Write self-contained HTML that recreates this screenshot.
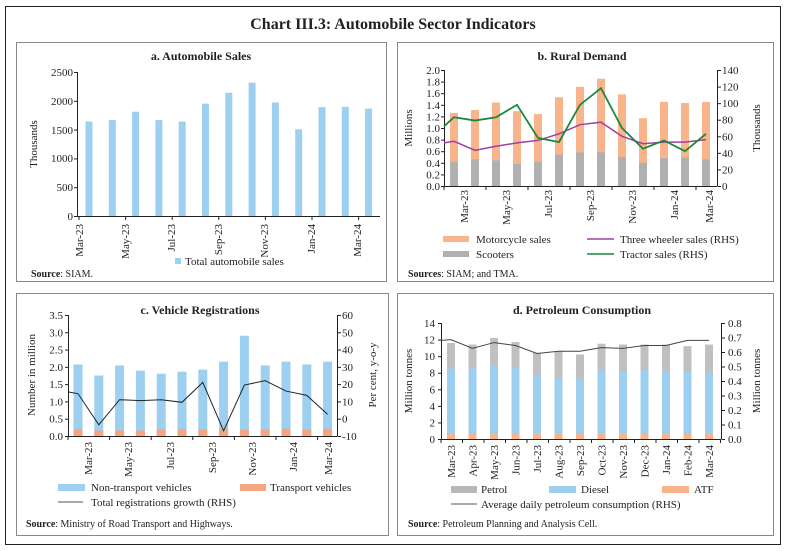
<!DOCTYPE html>
<html><head><meta charset="utf-8"><style>
body{margin:0;background:#fff}
svg{display:block}
text{font-family:"Liberation Serif",serif;fill:#222}
.t{font-size:11px}
.s{font-size:10px}
.h{font-size:12px;font-weight:bold}
</style></head><body>
<svg id="c" width="787" height="551" viewBox="0 0 787 551" xmlns="http://www.w3.org/2000/svg">
<rect x="5.5" y="6.5" width="775" height="538" fill="none" stroke="#222" stroke-width="1"/>
<text x="393" y="29" text-anchor="middle" style="font-size:16px;font-weight:bold">Chart III.3: Automobile Sector Indicators</text>
<rect x="16.5" y="42.5" width="370" height="239" fill="none" stroke="#888"/>
<rect x="397.5" y="42.5" width="376" height="239" fill="none" stroke="#888"/>
<rect x="16.5" y="293.5" width="372" height="242" fill="none" stroke="#888"/>
<rect x="397.5" y="293.5" width="376" height="242" fill="none" stroke="#888"/>

<!-- Panel a -->
<text class="h" x="201" y="60" text-anchor="middle">a. Automobile Sales</text>
<g class="t" text-anchor="end">
<text x="73" y="76">2500</text><text x="73" y="105">2000</text><text x="73" y="134">1500</text><text x="73" y="162">1000</text><text x="73" y="191">500</text><text x="73" y="220">0</text>
</g>
<text class="t" transform="translate(37,144) rotate(-90)" text-anchor="middle">Thousands</text>
<g class="t" text-anchor="end">
<text transform="translate(83,224) rotate(-90)">Mar-23</text>
<text transform="translate(129,224) rotate(-90)">May-23</text>
<text transform="translate(175,224) rotate(-90)">Jul-23</text>
<text transform="translate(222,224) rotate(-90)">Sep-23</text>
<text transform="translate(268,224) rotate(-90)">Nov-23</text>
<text transform="translate(315,224) rotate(-90)">Jan-24</text>
<text transform="translate(361,224) rotate(-90)">Mar-24</text>
</g>
<rect x="175" y="258" width="6" height="6" fill="#9dd0f0"/>
<text class="t" x="185" y="265">Total automobile sales</text>
<text class="s" x="31" y="277"><tspan font-weight="bold">Source</tspan>: SIAM.</text>

<!-- Panel b -->
<text class="h" x="582" y="60" text-anchor="middle">b. Rural Demand</text>
<g class="t" text-anchor="end">
<text x="440" y="74">2.0</text><text x="440" y="85.6">1.8</text><text x="440" y="97.2">1.6</text><text x="440" y="108.8">1.4</text><text x="440" y="120.4">1.2</text><text x="440" y="132">1.0</text><text x="440" y="143.6">0.8</text><text x="440" y="155.2">0.6</text><text x="440" y="166.8">0.4</text><text x="440" y="178.4">0.2</text><text x="440" y="190">0.0</text>
</g>
<g class="t">
<text x="722" y="74">140</text><text x="722" y="90.6">120</text><text x="722" y="107.1">100</text><text x="722" y="123.7">80</text><text x="722" y="140.3">60</text><text x="722" y="156.9">40</text><text x="722" y="173.4">20</text><text x="722" y="190">0</text>
</g>
<text class="t" transform="translate(412,128) rotate(-90)" text-anchor="middle">Millions</text>
<text class="t" transform="translate(760,128) rotate(-90)" text-anchor="middle">Thousands</text>
<g class="t" text-anchor="end">
<text transform="translate(468,190) rotate(-90)">Mar-23</text>
<text transform="translate(510,190) rotate(-90)">May-23</text>
<text transform="translate(552,190) rotate(-90)">Jul-23</text>
<text transform="translate(594,190) rotate(-90)">Sep-23</text>
<text transform="translate(636,190) rotate(-90)">Nov-23</text>
<text transform="translate(678,190) rotate(-90)">Jan-24</text>
<text transform="translate(713,190) rotate(-90)">Mar-24</text>
</g>
<rect x="443" y="236" width="26" height="6" fill="#f8b48a"/>
<text class="t" x="476" y="243">Motorcycle sales</text>
<rect x="443" y="251" width="26" height="6" fill="#b0b0b0"/>
<text class="t" x="476" y="258">Scooters</text>
<line x1="587" y1="239" x2="614" y2="239" stroke="#a040a0" stroke-width="1.5"/>
<text class="t" x="620" y="243">Three wheeler sales (RHS)</text>
<line x1="587" y1="254" x2="614" y2="254" stroke="#1a8a3a" stroke-width="1.5"/>
<text class="t" x="620" y="258">Tractor sales (RHS)</text>
<text class="s" x="408" y="277"><tspan font-weight="bold">Sources</tspan>: SIAM; and TMA.</text>

<!-- Panel c -->
<text class="h" x="200" y="314" text-anchor="middle">c. Vehicle Registrations</text>
<g class="t" text-anchor="end">
<text x="63" y="319">3.5</text><text x="63" y="336.3">3.0</text><text x="63" y="353.6">2.5</text><text x="63" y="370.9">2.0</text><text x="63" y="388.1">1.5</text><text x="63" y="405.4">1.0</text><text x="63" y="422.7">0.5</text><text x="63" y="440">0.0</text>
</g>
<g class="t">
<text x="342" y="319">60</text><text x="342" y="336.3">50</text><text x="342" y="353.6">40</text><text x="342" y="370.9">30</text><text x="342" y="388.1">20</text><text x="342" y="405.4">10</text><text x="342" y="422.7">0</text><text x="342" y="440">-10</text>
</g>
<text class="t" transform="translate(35,375) rotate(-90)" text-anchor="middle">Number in million</text>
<text class="t" transform="translate(376,375) rotate(-90)" text-anchor="middle">Per cent, y-o-y</text>
<g class="t" text-anchor="end">
<text transform="translate(92,442) rotate(-90)">Mar-23</text>
<text transform="translate(132,442) rotate(-90)">May-23</text>
<text transform="translate(174,442) rotate(-90)">Jul-23</text>
<text transform="translate(216,442) rotate(-90)">Sep-23</text>
<text transform="translate(256,442) rotate(-90)">Nov-23</text>
<text transform="translate(297,442) rotate(-90)">Jan-24</text>
<text transform="translate(332,442) rotate(-90)">Mar-24</text>
</g>
<rect x="58" y="484" width="27" height="7" fill="#9dd0f0"/>
<text class="t" x="91" y="491">Non-transport vehicles</text>
<rect x="240" y="484" width="26" height="7" fill="#f4a582"/>
<text class="t" x="270" y="491">Transport vehicles</text>
<line x1="58" y1="502" x2="83" y2="502" stroke="#555" stroke-width="1"/>
<text class="t" x="91" y="506">Total registrations growth (RHS)</text>
<text class="s" x="26" y="527"><tspan font-weight="bold">Source</tspan>:  Ministry of Road Transport and Highways.</text>

<!-- Panel d -->
<text class="h" x="582" y="314" text-anchor="middle">d. Petroleum Consumption</text>
<g class="t" text-anchor="end">
<text x="435" y="327">14</text><text x="435" y="343.6">12</text><text x="435" y="360.1">10</text><text x="435" y="376.7">8</text><text x="435" y="393.3">6</text><text x="435" y="409.9">4</text><text x="435" y="426.4">2</text><text x="435" y="443">0</text>
</g>
<g class="t">
<text x="728" y="327">0.8</text><text x="728" y="341.5">0.7</text><text x="728" y="356">0.6</text><text x="728" y="370.5">0.5</text><text x="728" y="385">0.4</text><text x="728" y="399.5">0.3</text><text x="728" y="414">0.2</text><text x="728" y="428.5">0.1</text><text x="728" y="443">0.0</text>
</g>
<text class="t" transform="translate(412,381) rotate(-90)" text-anchor="middle">Million tonnes</text>
<text class="t" transform="translate(760,381) rotate(-90)" text-anchor="middle">Million tonnes</text>
<g class="t" text-anchor="end" id="dl">
<text transform="translate(455,445) rotate(-90)">Mar-23</text>
<text transform="translate(476.5,445) rotate(-90)">Apr-23</text>
<text transform="translate(498,445) rotate(-90)">May-23</text>
<text transform="translate(519.5,445) rotate(-90)">Jun-23</text>
<text transform="translate(541,445) rotate(-90)">Jul-23</text>
<text transform="translate(562.5,445) rotate(-90)">Aug-23</text>
<text transform="translate(584,445) rotate(-90)">Sep-23</text>
<text transform="translate(605.5,445) rotate(-90)">Oct-23</text>
<text transform="translate(627,445) rotate(-90)">Nov-23</text>
<text transform="translate(648.5,445) rotate(-90)">Dec-23</text>
<text transform="translate(670,445) rotate(-90)">Jan-24</text>
<text transform="translate(691.5,445) rotate(-90)">Feb-24</text>
<text transform="translate(713,445) rotate(-90)">Mar-24</text>
</g>
<rect x="451" y="486" width="26" height="7" fill="#b8b8b8"/>
<text class="t" x="481" y="493">Petrol</text>
<rect x="549" y="486" width="27" height="7" fill="#9dd0f0"/>
<text class="t" x="581" y="493">Diesel</text>
<rect x="662" y="486" width="27" height="7" fill="#f8b48a"/>
<text class="t" x="694" y="493">ATF</text>
<line x1="451" y1="504" x2="477" y2="504" stroke="#555"/>
<text class="t" x="481" y="508">Average daily petroleum consumption (RHS)</text>
<text class="s" x="408" y="527"><tspan font-weight="bold">Source</tspan>:  Petroleum Planning and Analysis Cell.</text>
<g id="g"></g>
</svg>
<script>
var g=document.getElementById('g'),NS='http://www.w3.org/2000/svg';
function el(t,a){var e=document.createElementNS(NS,t);for(var k in a)e.setAttribute(k,a[k]);g.appendChild(e);return e;}
function rect(x,y,w,h,f){el('rect',{x:x,y:y,width:w,height:h,fill:f});}
function line(x1,y1,x2,y2,s,w){el('line',{x1:x1,y1:y1,x2:x2,y2:y2,stroke:s,'stroke-width':w||1});}
function poly(p,s,w){el('polyline',{points:p.map(function(q){return q[0]+','+q[1]}).join(' '),fill:'none',stroke:s,'stroke-width':w});}
(function(){var v=[1640,1665,1810,1665,1640,1950,2140,2315,1970,1505,1890,1895,1865];
var y0=216,s=144/2500;
v.forEach(function(d,i){var cx=89+i*23.3;rect(cx-3.5,y0-d*s,7,d*s,'#9dd0f0');});
line(77.5,72,77.5,216,'#222');line(77,216.5,380,216.5,'#222');
for(var k=0;k<=5;k++){line(74,216.5-k*28.8,77.5,216.5-k*28.8,'#222');}
for(var k=0;k<7;k++){var x=79+k*46.6;line(x,216,x,220,'#222');}
})();
(function(){var tot=[1.26,1.31,1.44,1.29,1.24,1.53,1.71,1.85,1.58,1.17,1.45,1.43,1.45];
var sc=[0.42,0.46,0.44,0.38,0.42,0.54,0.58,0.58,0.50,0.40,0.48,0.49,0.46];
var y0=186,s=116/2,rs=116/140;
for(var i=0;i<13;i++){var cx=454+i*21;rect(cx-4,y0-tot[i]*s,8,tot[i]*s,'#f8b48a');rect(cx-4,y0-sc[i]*s,8,sc[i]*s,'#b0b0b0');}
line(444.5,70,444.5,186,'#222');line(717.5,70,717.5,186,'#222');line(444,186.5,717,186.5,'#222');
for(var k=0;k<=10;k++)line(441,186.5-k*11.6,444.5,186.5-k*11.6,'#222');
for(var k=0;k<=7;k++)line(717.5,186.5-k*16.57,721,186.5-k*16.57,'#222');
for(var k=0;k<7;k++){var x=444+k*42;line(x,186,x,190,'#222');}
var xs=[444];for(var i=0;i<13;i++)xs.push(454+i*21);
var gr=[72,83,79,83,98,58,53,98,118,70,45,55,42,63],pu=[52,54,43,48,52,55,63,74,77,60,51,53,53,56];
poly(xs.map(function(x,i){return [x,y0-pu[i]*rs]}),'#a040a0',1.5);
poly(xs.map(function(x,i){return [x,y0-gr[i]*rs]}),'#1a8a3a',1.8);
})();
(function(){var tot=[2.07,1.75,2.04,1.89,1.80,1.86,1.92,2.15,2.90,2.04,2.15,2.07,2.15];
var tr=[0.19,0.16,0.16,0.16,0.19,0.19,0.19,0.2,0.19,0.19,0.21,0.19,0.21];
var y0=436,s=121/3.5,rs=121/70;
for(var i=0;i<13;i++){var cx=78+i*20.8;rect(cx-4.5,y0-tot[i]*s,9,tot[i]*s,'#9dd0f0');rect(cx-4.5,y0-tr[i]*s,9,tr[i]*s,'#f4a582');}
line(68.5,315,68.5,436,'#222');line(337.5,315,337.5,436,'#222');line(68,436.5,337,436.5,'#222');
for(var k=0;k<=7;k++){line(65,436.5-k*17.29,68.5,436.5-k*17.29,'#222');line(337.5,436.5-k*17.29,341,436.5-k*17.29,'#222');}
for(var k=0;k<7;k++){var x=68+k*41.6;line(x,436,x,440,'#222');}
var xs=[68];for(var i=0;i<13;i++)xs.push(78+i*20.8);
var v=[15.5,14.5,-3.5,11,10.5,11,9.5,21,-7,19.5,22,16,13.5,2.5];
poly(xs.map(function(x,i){return [x,y0-(v[i]+10)*rs]}),'#222',1);
})();
(function(){var tot=[11.6,11.4,12.2,11.7,10.4,10.6,10.2,11.5,11.4,11.4,11.4,11.2,11.4];
var di=[8.5,8.5,8.9,8.6,7.6,7.3,7.2,8.3,8.2,8.3,8.1,8.1,8.0];
var y0=439,s=116/14,rs=116/0.8;
for(var i=0;i<13;i++){var cx=451+i*21.5;rect(cx-4,y0-tot[i]*s,8,tot[i]*s,'#c0c0c0');rect(cx-4,y0-di[i]*s,8,di[i]*s,'#9dd0f0');rect(cx-4,y0-0.65*s,8,0.65*s,'#f8b48a');}
line(441.5,323,441.5,439,'#222');line(721.5,323,721.5,439,'#222');line(441,439.5,721,439.5,'#222');
for(var k=0;k<=7;k++)line(438,439.5-k*16.57,441.5,439.5-k*16.57,'#222');
for(var k=0;k<=8;k++)line(721.5,439.5-k*14.5,725,439.5-k*14.5,'#222');
for(var k=0;k<=13;k++){var x=441+k*21.5;line(x,439,x,443,'#222');}
var xs=[441];for(var i=0;i<13;i++)xs.push(451+i*21.5);
var v=[0.68,0.685,0.625,0.665,0.645,0.59,0.605,0.605,0.63,0.625,0.645,0.645,0.68,0.68];
poly(xs.map(function(x,i){return [x,y0-v[i]*rs]}),'#444',1);
})();
</script>
</body></html>
